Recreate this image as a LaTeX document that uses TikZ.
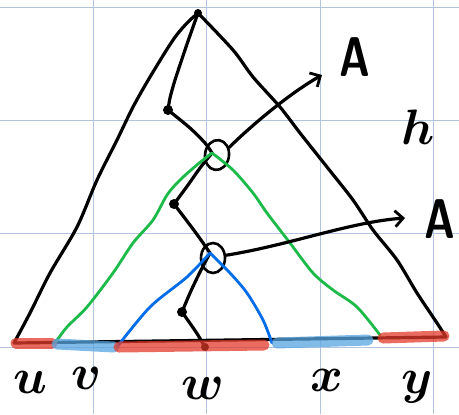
\documentclass[tikz,border=0pt]{standalone}
\usepackage{tikz}
\usetikzlibrary{arrows.meta,positioning,shapes.geometric}
\definecolor{GridBlue}{RGB}{178,196,224}
\definecolor{MarkRed}{RGB}{228,58,42}
\definecolor{MarkBlue}{RGB}{88,166,226}
\definecolor{PathGreen}{RGB}{28,186,72}
\definecolor{PathBlue}{RGB}{0,108,232}

\begin{document}
\begin{tikzpicture}[
    x=0.5pt, y=-0.5pt,
    >={Straight Barb[length=4pt, width=8pt, line width=1.4pt]},
    pen/.style={line width=1.6pt, line cap=round, line join=round, black},
    subtree/.style={line width=1.4pt, line cap=round, line join=round, color=#1},
    band/.style={line width=5.5pt, color=#1, opacity=0.75, line cap=round},
    vtx/.style={circle, fill=#1, inner sep=0pt, minimum size=5pt},
    vtx/.default=black,
    ring/.style={ellipse, draw, line width=1.3pt, minimum width=12pt,
        minimum height=15pt, inner sep=0pt},
    lbl/.style={font=\fontsize{28}{30}\selectfont\boldmath, inner sep=0pt},
    biglbl/.style={font=\fontsize{28}{30}\sffamily\bfseries, inner sep=0pt, xscale=0.75},
    gridline/.style={draw=GridBlue, line width=0.5pt},
]

\useasboundingbox[fill=white] (0,0) rectangle (459,414);

% ── Grid ──
\foreach \gx in {93,206,320,433}
    \draw[gridline] (\gx,0) -- (\gx,414);
\foreach \gy in {7,120,233,347}
    \draw[gridline] (0,\gy) -- (459,\gy);

% ── Corners and spine vertices ──
\coordinate (top) at (198,13);
\coordinate (bl) at (14,343);
\coordinate (br) at (446,337);
\coordinate (wpt) at (205,347);
\node[vtx] (s1) at (168,110) {};
\node[vtx] (s2) at (174,204) {};
\node[vtx] (s3) at (182,312) {};
\node[vtx, minimum size=4pt] (apex) at (top) {};
\coordinate (g) at (212,153);
\coordinate (b) at (210,253);

% ── Rings ──
\node[ring, rotate=-8] (ringup) at (217,155) {};
\node[ring] (ringlo) at (213,258) {};

% ── Outer triangle ──
\draw[pen] plot[smooth, tension=0.5] coordinates {(top) (187,23) (173,40) (150,77)
    (133,107) (117,140) (97,180) (77,227) (50,273) (30,313) (bl)};
\draw[pen] plot[smooth, tension=0.5] coordinates {(top) (233,50) (253,77) (280,107)
    (300,133) (327,167) (353,200) (373,230) (397,260) (417,293) (437,323) (br)};
\draw[pen] (bl) -- (br);

% ── Spine ──
\draw[pen] plot[smooth, tension=0.5] coordinates {(top) (193,27) (186,47) (175,80) (170,98) (s1)};
\draw[pen] plot[smooth, tension=0.5] coordinates {(s1) (190,128) (205,143) (g)};
\draw[pen] plot[smooth, tension=0.5] coordinates {(g) (200,168) (188,185) (s2)};
\draw[pen] plot[smooth, tension=0.5] coordinates {(s2) (190,225) (201,240) (b)};
\draw[pen] plot[smooth, tension=0.5] coordinates {(b) (200,272) (190,293) (s3)};
\draw[pen] plot[smooth, tension=0.5] coordinates {(s3) (196,332) (wpt)};

% ── Subtrees ──
\draw[subtree=PathGreen] plot[smooth, tension=0.5] coordinates {(g) (198,164) (180,180)
    (167,195) (153,220) (133,243) (113,273) (87,307) (67,327) (55,343)};
\draw[subtree=PathGreen] plot[smooth, tension=0.5] coordinates {(g) (233,170) (253,193)
    (267,213) (290,243) (313,273) (333,290) (357,307) (380,335)};
\draw[subtree=PathBlue] plot[smooth, tension=0.5] coordinates {(b) (187,277) (150,307) (117,347)};
\draw[subtree=PathBlue] plot[smooth, tension=0.5] coordinates {(b) (230,273) (247,293) (263,320) (272,343)};

% ── Marked intervals ──
\draw[band=MarkRed] (16,343) -- (52,343);
\draw[band=MarkBlue] (57,344) -- (114,347);
\draw[band=MarkRed] (119,347) -- (264,345);
\draw[band=MarkBlue] (277,343) -- (368,340);
\draw[band=MarkRed] (383,338) -- (444,336);
\node[vtx=MarkRed!70!black, minimum size=4pt] at (wpt) {};

% ── Arrows to A ──
\coordinate (aup) at (322,75);
\coordinate (alo) at (405,218);
\draw[pen, ->] (ringup.40) .. controls (255,122) and (292,92) .. (aup);
\draw[pen, ->] (ringlo.12) .. controls (290,245) and (350,222) .. (alo);

% ── Labels ──
\node[biglbl] (labup) at (355,57) {A};
\node[biglbl] (lablo) at (440,219) {A};
\node[lbl, font=\fontsize{34}{36}\selectfont\boldmath] (labh) at (418,127) {$h$};
\node[lbl] (labu) at (30,382) {$u$};
\node[lbl] (labv) at (87,378) {$v$};
\node[lbl] (labw) at (203,388) {$w$};
\node[lbl] (labx) at (327,380) {$x$};
\node[lbl] (laby) at (417,387) {$y$};

\end{tikzpicture}
\end{document}
